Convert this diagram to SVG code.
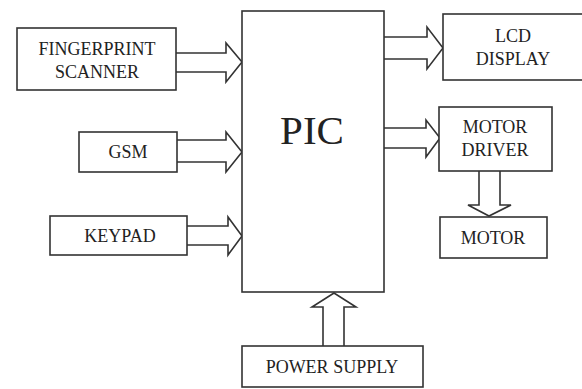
<svg xmlns="http://www.w3.org/2000/svg" width="582" height="389" viewBox="0 0 582 389">
<style>
.box{fill:#fff;stroke:#333;stroke-width:1.6}
.arr{fill:#fff;stroke:#333;stroke-width:1.6;stroke-linejoin:miter}
text{font-family:'Liberation Serif','DejaVu Serif',serif;font-size:18px;fill:#222;text-anchor:middle}
.big{font-size:41px}
</style>
<rect width="582" height="389" fill="#fff"/>
<g id="connectors">
<path class="arr" d="M176,53 H226 V43 L242,62 L226,82 V72 H176"/>
<path class="arr" d="M177,140 H226 V132 L242,152 L226,172 V162 H177"/>
<path class="arr" d="M187,226 H228 V217 L242,236 L228,255 V245 H187"/>
<path class="arr" d="M384,37 H427 V27 L443,48 L427,69 V59 H384"/>
<path class="arr" d="M384,128 H426 V120 L440,138 L426,157 V148 H384"/>
<path class="arr" d="M479,171 V205 H468 L489,216 L511,205 H500 V171"/>
<path class="arr" d="M323,346 V307 H312 L334,293 L356,307 H344 V346"/>
</g>
<g id="pic">
<rect class="box" x="242" y="11" width="142" height="281"/>
<text class="big" x="312" y="144">PIC</text>
</g>
<g id="fingerprint">
<rect class="box" x="17" y="28" width="159" height="62"/>
<text x="97" y="55">FINGERPRINT</text>
<text x="97" y="78">SCANNER</text>
</g>
<g id="gsm">
<rect class="box" x="79" y="132" width="98" height="40"/>
<text x="128" y="158">GSM</text>
</g>
<g id="keypad">
<rect class="box" x="50" y="216" width="137" height="39"/>
<text x="120" y="242">KEYPAD</text>
</g>
<g id="lcd">
<rect class="box" x="443" y="14" width="142" height="66"/>
<text x="513" y="42">LCD</text>
<text x="513" y="65">DISPLAY</text>
</g>
<g id="motordriver">
<rect class="box" x="439" y="107" width="113" height="64"/>
<text x="495" y="133">MOTOR</text>
<text x="495" y="156">DRIVER</text>
</g>
<g id="motor">
<rect class="box" x="440" y="217" width="107" height="41"/>
<text x="493" y="244">MOTOR</text>
</g>
<g id="power">
<rect class="box" x="242" y="346" width="181" height="41"/>
<text x="332" y="373">POWER SUPPLY</text>
</g>
</svg>
